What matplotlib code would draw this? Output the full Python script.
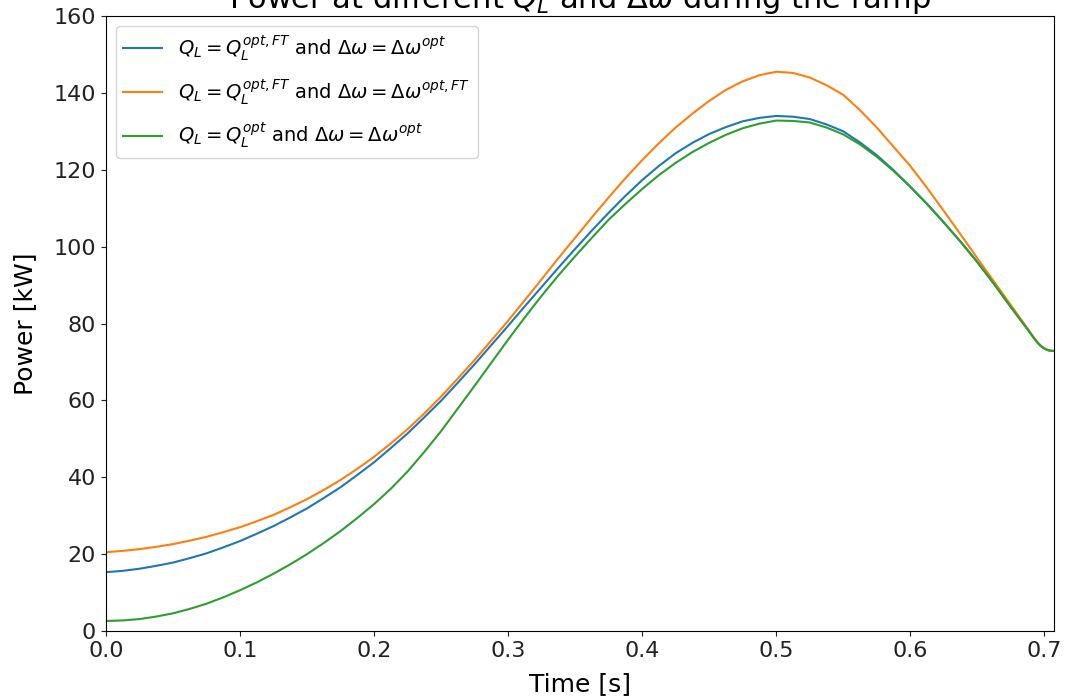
import matplotlib
matplotlib.use("Agg")
import matplotlib.pyplot as plt

t = [0.0, 0.0125, 0.025, 0.0375, 0.05, 0.0625, 0.075, 0.0875,
     0.1, 0.1125, 0.125, 0.1375, 0.15, 0.1625, 0.175, 0.1875,
     0.2, 0.2125, 0.225, 0.2375, 0.25, 0.2625, 0.275, 0.2875,
     0.3, 0.3125, 0.325, 0.3375, 0.35, 0.3625, 0.375, 0.3875,
     0.4, 0.4125, 0.425, 0.4375, 0.45, 0.4625, 0.475, 0.4875,
     0.5, 0.5125, 0.525, 0.5375, 0.55, 0.5625, 0.575, 0.5875,
     0.6, 0.6125, 0.625, 0.6375, 0.65, 0.6625, 0.675, 0.6875,
     0.69, 0.6925, 0.695, 0.6975, 0.7, 0.7025, 0.705, 0.7075]

p_blue = [15.3, 15.65, 16.2, 16.95, 17.8, 18.95, 20.2, 21.75,
          23.4, 25.3, 27.3, 29.55, 31.9, 34.6, 37.4, 40.6,
          43.9, 47.6, 51.4, 55.6, 59.9, 64.6, 69.4, 74.4,
          79.4, 84.5, 89.5, 94.5, 99.4, 104.2, 108.8, 113.2,
          117.3, 121.0, 124.3, 127.0, 129.3, 131.1, 132.6, 133.5,
          134.0, 133.8, 133.2, 131.8, 130.0, 127.1, 123.8, 119.9,
          115.6, 111.1, 106.3, 101.3, 96.0, 90.3, 84.3, 78.5,
          77.3, 76.1, 75.0, 74.1, 73.5, 73.1, 72.9, 72.85]

p_orange = [20.5, 20.85, 21.3, 21.9, 22.6, 23.5, 24.5, 25.7,
            27.0, 28.55, 30.2, 32.2, 34.3, 36.7, 39.3, 42.2,
            45.3, 48.8, 52.5, 56.6, 61.0, 65.7, 70.5, 75.6,
            80.7, 86.1, 91.5, 97.0, 102.3, 107.6, 112.8, 117.8,
            122.5, 126.9, 131.0, 134.6, 137.9, 140.8, 143.0, 144.6,
            145.5, 145.2, 144.0, 142.0, 139.5, 135.5, 131.0, 126.0,
            121.0, 115.3, 109.3, 103.2, 97.0, 90.9, 84.8, 78.7,
            77.4, 76.2, 75.1, 74.2, 73.5, 73.1, 72.9, 72.85]

p_green = [2.6, 2.75, 3.1, 3.75, 4.6, 5.75, 7.1, 8.75,
           10.6, 12.65, 14.9, 17.35, 20.0, 22.9, 26.0, 29.4,
           33.0, 37.0, 41.5, 46.6, 52.0, 57.9, 63.8, 69.8,
           75.8, 81.6, 87.2, 92.5, 97.5, 102.3, 107.0, 111.1,
           115.0, 118.6, 121.8, 124.6, 127.0, 129.1, 130.8, 132.0,
           132.8, 132.7, 132.3, 131.0, 129.2, 126.6, 123.4, 119.7,
           115.6, 111.1, 106.3, 101.3, 96.0, 90.3, 84.3, 78.5,
           77.3, 76.1, 75.0, 74.1, 73.5, 73.1, 72.9, 72.85]

labels = [r"$Q_L = Q_L^{opt,FT}$ and $\Delta\omega = \Delta\omega^{opt}$",
          r"$Q_L = Q_L^{opt,FT}$ and $\Delta\omega = \Delta\omega^{opt,FT}$",
          r"$Q_L = Q_L^{opt}$ and $\Delta\omega = \Delta\omega^{opt}$"]

title = r"Power at different $Q_L$ and $\Delta\omega$ during the ramp"

fig = plt.figure(figsize=(10.65, 6.96), dpi=100)
ax = fig.add_axes([0.0995, 0.0934, 0.8905, 0.8836])

ax.plot(t, p_blue, color="#1f77b4", lw=1.5, label=labels[0])
ax.plot(t, p_orange, color="#ff7f0e", lw=1.5, label=labels[1])
ax.plot(t, p_green, color="#2ca02c", lw=1.5, label=labels[2])

ax.set_xlim(0, 0.7075)
ax.set_ylim(0, 160)
ax.set_xticks([0.0, 0.1, 0.2, 0.3, 0.4, 0.5, 0.6, 0.7])
ax.set_yticks(range(0, 161, 20))
ax.tick_params(labelsize=16, colors="#222222")
ax.set_xlabel("Time [s]", fontsize=18, labelpad=8)
ax.set_ylabel("Power [kW]", fontsize=18, labelpad=12)
ax.set_title(title, fontsize=22)
ax.legend(loc="upper left", fontsize=14, labelspacing=0.75)

fig.savefig("out.png", dpi=100)
